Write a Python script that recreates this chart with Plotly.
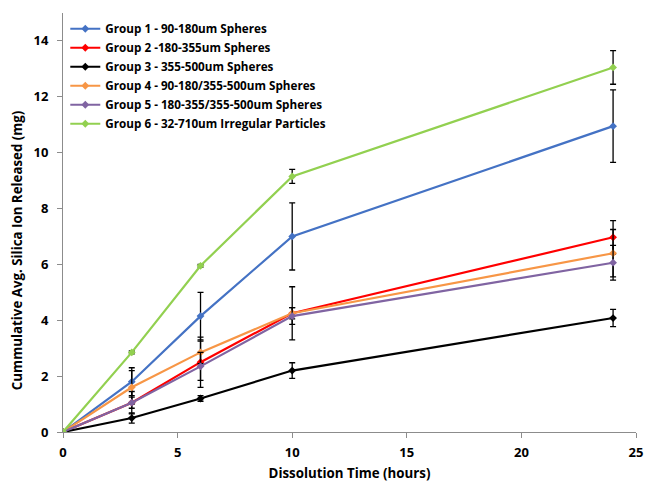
import plotly.graph_objects as go

hours = [0, 3, 6, 10, 24]

names = [
    "Group 1 - 90-180um Spheres",
    "Group 2 -180-355um Spheres",
    "Group 3 - 355-500um Spheres",
    "Group 4 - 90-180/355-500um Spheres",
    "Group 5 - 180-355/355-500um Spheres",
    "Group 6 - 32-710um Irregular Particles",
]
colors = ["#4472C4", "#FF0000", "#000000", "#F79646", "#8064A2", "#92D050"]

g1 = [0, 1.8, 4.15, 7.0, 10.95]
g2 = [0, 1.05, 2.5, 4.25, 6.97]
g3 = [0, 0.5, 1.2, 2.2, 4.08]
g4 = [0, 1.6, 2.85, 4.25, 6.4]
g5 = [0, 1.05, 2.35, 4.15, 6.06]
g6 = [0, 2.85, 5.95, 9.15, 13.05]

e1 = [0, 0.5, 0.85, 1.2, 1.3]
e2 = [0, 0.4, 0.9, 0.95, 0.6]
e3 = [0, 0.18, 0.1, 0.28, 0.31]
e4 = [0, 0.6, 0.4, 0.2, 0.85]
e5 = [0, 0.2, 0.5, 0.3, 0.62]
e6 = [0, 0.05, 0.05, 0.25, 0.6]

series = [g1, g2, g3, g4, g5, g6]
errors = [e1, e2, e3, e4, e5, e6]

x_title = "Dissolution Time (hours)"
y_title = "Cummulative Avg. Silica Ion Released (mg)"

fig = go.Figure()
for name, col, ys, es in zip(names, colors, series, errors):
    fig.add_trace(go.Scatter(
        x=hours, y=ys, name=name, mode="lines+markers",
        line=dict(color=col, width=2.2),
        marker=dict(symbol="diamond", size=6, color=col),
        error_y=dict(type="data", array=es, visible=True, color="black",
                     thickness=1.3, width=3),
    ))

font_family = "'Open Sans', 'Liberation Sans', Arial, sans-serif"
fig.update_layout(
    width=649, height=485,
    margin=dict(l=63, r=13, t=13, b=53, autoexpand=False),
    paper_bgcolor="white", plot_bgcolor="white",
    font=dict(family=font_family, color="black"),
    legend=dict(x=0.004, y=0.997, xanchor="left", yanchor="top",
                bgcolor="rgba(0,0,0,0)",
                font=dict(size=11.7, family=font_family, weight="bold"),
                tracegroupgap=0),
    xaxis=dict(range=[0, 25], tickvals=[0, 5, 10, 15, 20, 25],
               showgrid=False, zeroline=False, showline=True,
               linecolor="#8c8c8c", linewidth=1, ticks="outside",
               ticklen=5, tickcolor="#8c8c8c", automargin=False,
               ticklabelstandoff=3,
               tickfont=dict(size=13, weight="bold"),
               title=dict(text=x_title,
                          font=dict(size=13.3, weight="bold"), standoff=9)),
    yaxis=dict(range=[0, 15], tickvals=[0, 2, 4, 6, 8, 10, 12, 14],
               showgrid=False, zeroline=False, showline=True,
               linecolor="#8c8c8c", linewidth=1, ticks="outside",
               ticklen=5, tickcolor="#8c8c8c", automargin=False,
               ticklabelstandoff=6,
               tickfont=dict(size=13, weight="bold")),
    annotations=[dict(text=y_title, textangle=-90, showarrow=False,
                      xref="paper", yref="paper", x=-0.0803, y=0.434,
                      xanchor="center", yanchor="middle",
                      font=dict(size=13.3, weight="bold"))],
    showlegend=True,
)

fig.write_html("out.html", config={"displayModeBar": False},
               post_script="document.body.style.margin='0';document.body.style.overflow='hidden';")
